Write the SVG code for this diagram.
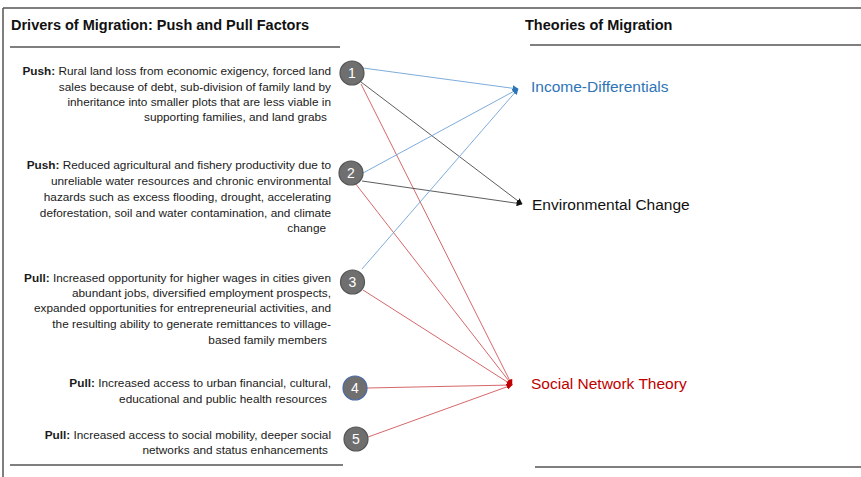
<svg xmlns="http://www.w3.org/2000/svg" width="861" height="477" viewBox="0 0 861 477">
<style>
.t{font-family:"Liberation Sans",Arial,sans-serif;font-size:11.8px;fill:#1a1a1a;text-anchor:end}
.b{font-weight:bold}
.h{font-family:"Liberation Sans",Arial,sans-serif;font-size:14.5px;font-weight:bold;fill:#111}
.rule{stroke:#555;stroke-width:1.5}
.n circle{fill:#6f6f6f;stroke:#555;stroke-width:1.2}
.n text{font-family:"Liberation Sans",Arial,sans-serif;font-size:14px;fill:#fff;text-anchor:middle}
.lbl{font-family:"Liberation Sans",Arial,sans-serif;font-size:15.5px}
.cb{stroke:#6fa3d6;stroke-width:0.9;fill:none}
.ck{stroke:#333;stroke-width:0.8;fill:none}
.cr{stroke:#d0575a;stroke-width:0.9;fill:none}
</style>
<defs>
<marker id="ab" viewBox="0 0 10 10" refX="9" refY="5" markerWidth="6" markerHeight="6" markerUnits="userSpaceOnUse" orient="auto"><path d="M0,0L10,5L0,10z" fill="#2e75b6"/></marker>
<marker id="ak" viewBox="0 0 10 10" refX="9" refY="5" markerWidth="6" markerHeight="6" markerUnits="userSpaceOnUse" orient="auto"><path d="M0,0L10,5L0,10z" fill="#111"/></marker>
<marker id="ar" viewBox="0 0 10 10" refX="9" refY="5" markerWidth="6" markerHeight="6" markerUnits="userSpaceOnUse" orient="auto"><path d="M0,0L10,5L0,10z" fill="#c00000"/></marker>
</defs>
<rect width="861" height="477" fill="#fff"/>
<g id="frame">
<line class="rule" x1="3" y1="8" x2="861" y2="8"/>
<line class="rule" x1="3" y1="8" x2="3" y2="477"/>
<line class="rule" x1="10" y1="47" x2="340" y2="47"/>
<line class="rule" x1="530" y1="45" x2="861" y2="45"/>
<line class="rule" x1="10" y1="465" x2="343" y2="465"/>
<line class="rule" x1="535" y1="467" x2="861" y2="467"/>
<text class="h" x="11" y="30">Drivers of Migration: Push and Pull Factors</text>
<text class="h" x="525" y="30">Theories of Migration</text>
</g>
<g id="connectors">
<line class="cb" x1="363" y1="68" x2="518" y2="89" marker-end="url(#ab)"/>
<line class="ck" x1="361" y1="82" x2="522" y2="204" marker-end="url(#ak)"/>
<line class="cr" x1="361" y1="84" x2="512" y2="385" marker-end="url(#ar)"/>
<line class="cb" x1="363" y1="173" x2="518" y2="89" marker-end="url(#ab)"/>
<line class="ck" x1="362" y1="181" x2="522" y2="204" marker-end="url(#ak)"/>
<line class="cr" x1="355" y1="183" x2="512" y2="385" marker-end="url(#ar)"/>
<line class="cb" x1="362" y1="269" x2="518" y2="89" marker-end="url(#ab)"/>
<line class="cr" x1="363" y1="290" x2="512" y2="385" marker-end="url(#ar)"/>
<line class="cr" x1="367" y1="388" x2="512" y2="385" marker-end="url(#ar)"/>
<line class="cr" x1="368" y1="437" x2="512" y2="385" marker-end="url(#ar)"/>
</g>
<g id="driver1">
<text class="t"><tspan x="331" y="75"><tspan class="b">Push:</tspan> Rural land loss from economic exigency, forced land</tspan><tspan x="331" y="91">sales because of debt, sub-division of family land by</tspan><tspan x="331" y="106">inheritance into smaller plots that are less viable in</tspan><tspan x="327" y="121">supporting families, and land grabs</tspan></text>
<g class="n"><circle cx="352" cy="73" r="12"/><text x="352" y="78">1</text></g>
</g>
<g id="driver2">
<text class="t"><tspan x="331" y="169"><tspan class="b">Push:</tspan> Reduced agricultural and fishery productivity due to</tspan><tspan x="331" y="185">unreliable water resources and chronic environmental</tspan><tspan x="331" y="201">hazards such as excess flooding, drought, accelerating</tspan><tspan x="331" y="217">deforestation, soil and water contamination, and climate</tspan><tspan x="326" y="232">change</tspan></text>
<g class="n"><circle cx="351" cy="173" r="12"/><text x="351" y="178">2</text></g>
</g>
<g id="driver3">
<text class="t"><tspan x="331" y="282"><tspan class="b">Pull:</tspan> Increased opportunity for higher wages in cities given</tspan><tspan x="331" y="297">abundant jobs, diversified employment prospects,</tspan><tspan x="331" y="312">expanded opportunities for entrepreneurial activities, and</tspan><tspan x="331" y="328">the resulting ability to generate remittances to village-</tspan><tspan x="327" y="344">based family members</tspan></text>
<g class="n"><circle cx="352.5" cy="282" r="12"/><text x="352.5" y="287">3</text></g>
</g>
<g id="driver4">
<text class="t"><tspan x="331" y="387"><tspan class="b">Pull:</tspan> Increased access to urban financial, cultural,</tspan><tspan x="327" y="403">educational and public health resources</tspan></text>
<g class="n"><circle cx="355" cy="388" r="12" style="stroke:#4a6aa8"/><text x="355" y="393">4</text></g>
</g>
<g id="driver5">
<text class="t"><tspan x="331" y="439"><tspan class="b">Pull:</tspan> Increased access to social mobility, deeper social</tspan><tspan x="328" y="454">networks and status enhancements</tspan></text>
<g class="n"><circle cx="356" cy="439" r="12"/><text x="356" y="444">5</text></g>
</g>
<g id="theory-income"><text class="lbl" x="531" y="92" fill="#2e75b6">Income-Differentials</text></g>
<g id="theory-env"><text class="lbl" x="532" y="210" fill="#111">Environmental Change</text></g>
<g id="theory-social"><text class="lbl" x="531" y="389" fill="#c00000">Social Network Theory</text></g>
</svg>
